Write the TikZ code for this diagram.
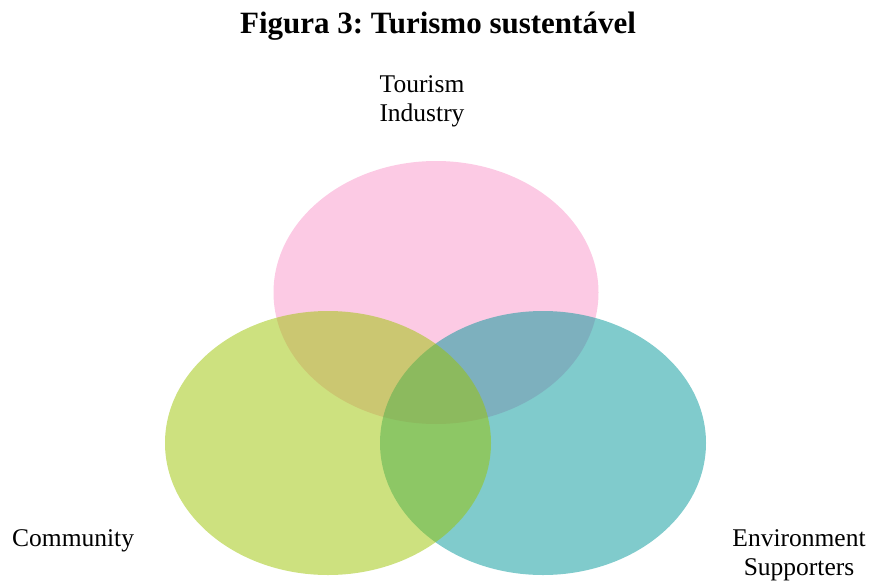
\documentclass[tikz,border=0pt]{standalone}
\usepackage{fontspec}
\setmainfont{Liberation Serif}
\definecolor{tourismpink}{HTML}{F995C9}
\definecolor{communitygreen}{HTML}{9BC400}
\definecolor{environteal}{HTML}{019799}

\begin{document}
\begin{tikzpicture}[x=1pt, y=-1pt,
    blob/.style={fill opacity=0.5},
    lbl/.style={font=\fontsize{25.5}{29}\selectfont, inner sep=0pt}]
  \useasboundingbox (0,0) rectangle (871,582);

  % title
  \node[anchor=base, inner sep=0pt, font=\fontsize{31}{36}\selectfont\bfseries\frenchspacing] (title) at (438,33) {Figura 3: Turismo sustentável};

  % the three sets
  \fill[blob, tourismpink] (436,292.5) ellipse [x radius=162.5, y radius=131.5];
  \fill[blob, environteal] (543,443) ellipse [x radius=163, y radius=132];
  \fill[blob, communitygreen] (328,443) ellipse [x radius=163, y radius=132];

  % labels
  \node[lbl, anchor=base, align=center] (tourism) at (422,121) {Tourism\\Industry};
  \node[lbl, anchor=base west] (community) at (12,546) {Community};
  \node[lbl, anchor=base, align=center] (environment) at (799,575) {Environment\\Supporters};
\end{tikzpicture}
\end{document}
